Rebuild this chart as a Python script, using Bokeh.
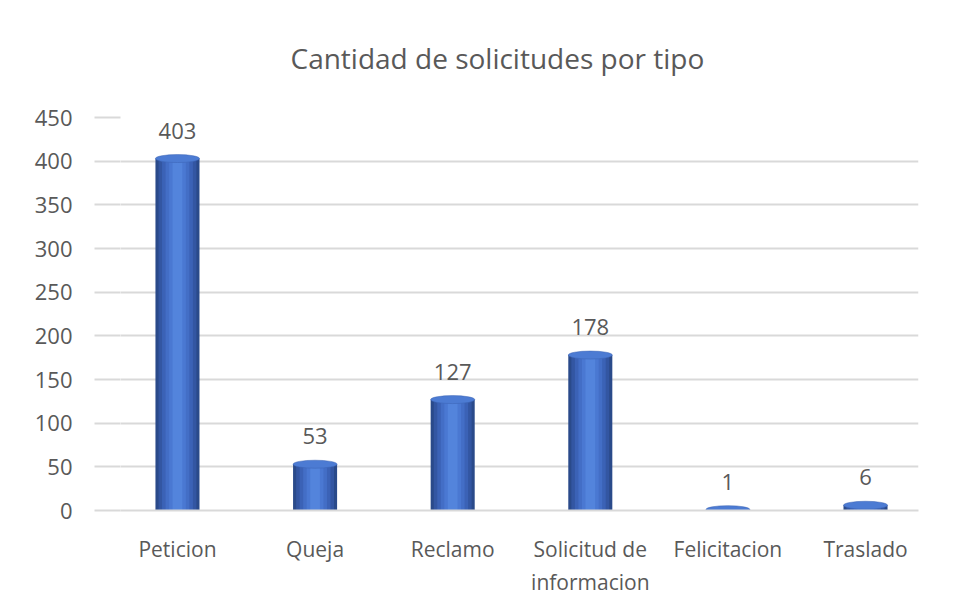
from bokeh.plotting import figure
from bokeh.models import ColumnDataSource, LabelSet, FixedTicker, Range1d
from bokeh.core.properties import value
from bokeh.embed import file_html
from bokeh.resources import INLINE

# ---- data ----
categories = ["Peticion", "Queja", "Reclamo", "Solicitud de\ninformacion", "Felicitacion", "Traslado"]
values = [403, 53, 127, 178, 1, 6]
y_ticks = [0, 50, 100, 150, 200, 250, 300, 350, 400, 450]
title_text = "Cantidad de solicitudes por tipo"

positions = list(range(len(categories)))
src = ColumnDataSource(dict(
    x=positions,
    top=values,
    zero=[0] * len(values),
    label=[str(v) for v in values],
))

FONT = "Open Sans"
TXT = "#595959"
GRID = "#D9D9D9"

p = figure(
    width=962, height=600,
    x_range=Range1d(-0.414, 5.385),
    y_range=Range1d(0, 450),
    output_backend="svg", toolbar_location=None,
    min_border_left=120, min_border_right=44,
    min_border_top=117, min_border_bottom=90,
)
p.outline_line_color = None
p.background_fill_color = "white"
p.border_fill_color = "white"

p.title.text = title_text
p.title.align = "left"
p.title.offset = 170
p.title.vertical_align = "top"
p.title.text_font = FONT
p.title.text_font_size = "28px"
p.title.text_font_style = "normal"
p.title.text_color = TXT
p.title.standoff = 77

# y axis
p.yaxis.ticker = FixedTicker(ticks=y_ticks)
p.yaxis.axis_line_color = None
p.yaxis.major_tick_in = 0
p.yaxis.major_tick_out = 26
p.yaxis.major_tick_line_color = GRID
p.yaxis.major_tick_line_width = 2
p.yaxis.minor_tick_line_color = None
p.yaxis.major_label_standoff = 22
p.yaxis.major_label_text_font = FONT
p.yaxis.major_label_text_font_size = "22px"
p.yaxis.major_label_text_color = TXT

# x axis
p.xaxis.ticker = FixedTicker(ticks=positions)
p.xaxis.major_label_overrides = {i: c for i, c in zip(positions, categories)}
p.xaxis.axis_line_color = GRID
p.xaxis.axis_line_width = 2
p.xaxis.major_tick_in = 0
p.xaxis.major_tick_out = 0
p.xaxis.minor_tick_line_color = None
p.xaxis.major_label_standoff = 24
p.xaxis.major_label_text_font = FONT
p.xaxis.major_label_text_font_size = "21px"
p.xaxis.major_label_text_color = TXT

p.xgrid.visible = False
p.ygrid.grid_line_color = GRID
p.ygrid.grid_line_width = 2

# cylinder-like bars: layered widths for shading
bar_w = 0.32
layers = [
    (1.00, "#2A4A8A"),
    (0.86, "#3356A2"),
    (0.70, "#3B62B6"),
    (0.54, "#436EC6"),
    (0.38, "#4A78D2"),
    (0.22, "#5384DC"),
]
ell_h = 8
for frac, col in layers:
    p.ellipse(x="x", y="zero", width=bar_w * frac, height=ell_h, height_units="screen",
              source=src, fill_color=col, line_color=None)
for frac, col in layers:
    p.vbar(x="x", bottom="zero", top="top", width=bar_w * frac, source=src,
           fill_color=col, line_color=None)
p.ellipse(x="x", y="top", width=bar_w, height=ell_h, height_units="screen",
          source=src, fill_color="#4C7BD3", line_color="#3A62B2", line_width=0.5)

labels = LabelSet(x="x", y="top", text="label", source=src, text_align="center",
                  text_baseline="bottom", y_offset=20, text_font=value(FONT),
                  text_font_size=value("22px"), text_color=TXT)
p.add_layout(labels)

open("out.html", "w").write(file_html(p, INLINE))
